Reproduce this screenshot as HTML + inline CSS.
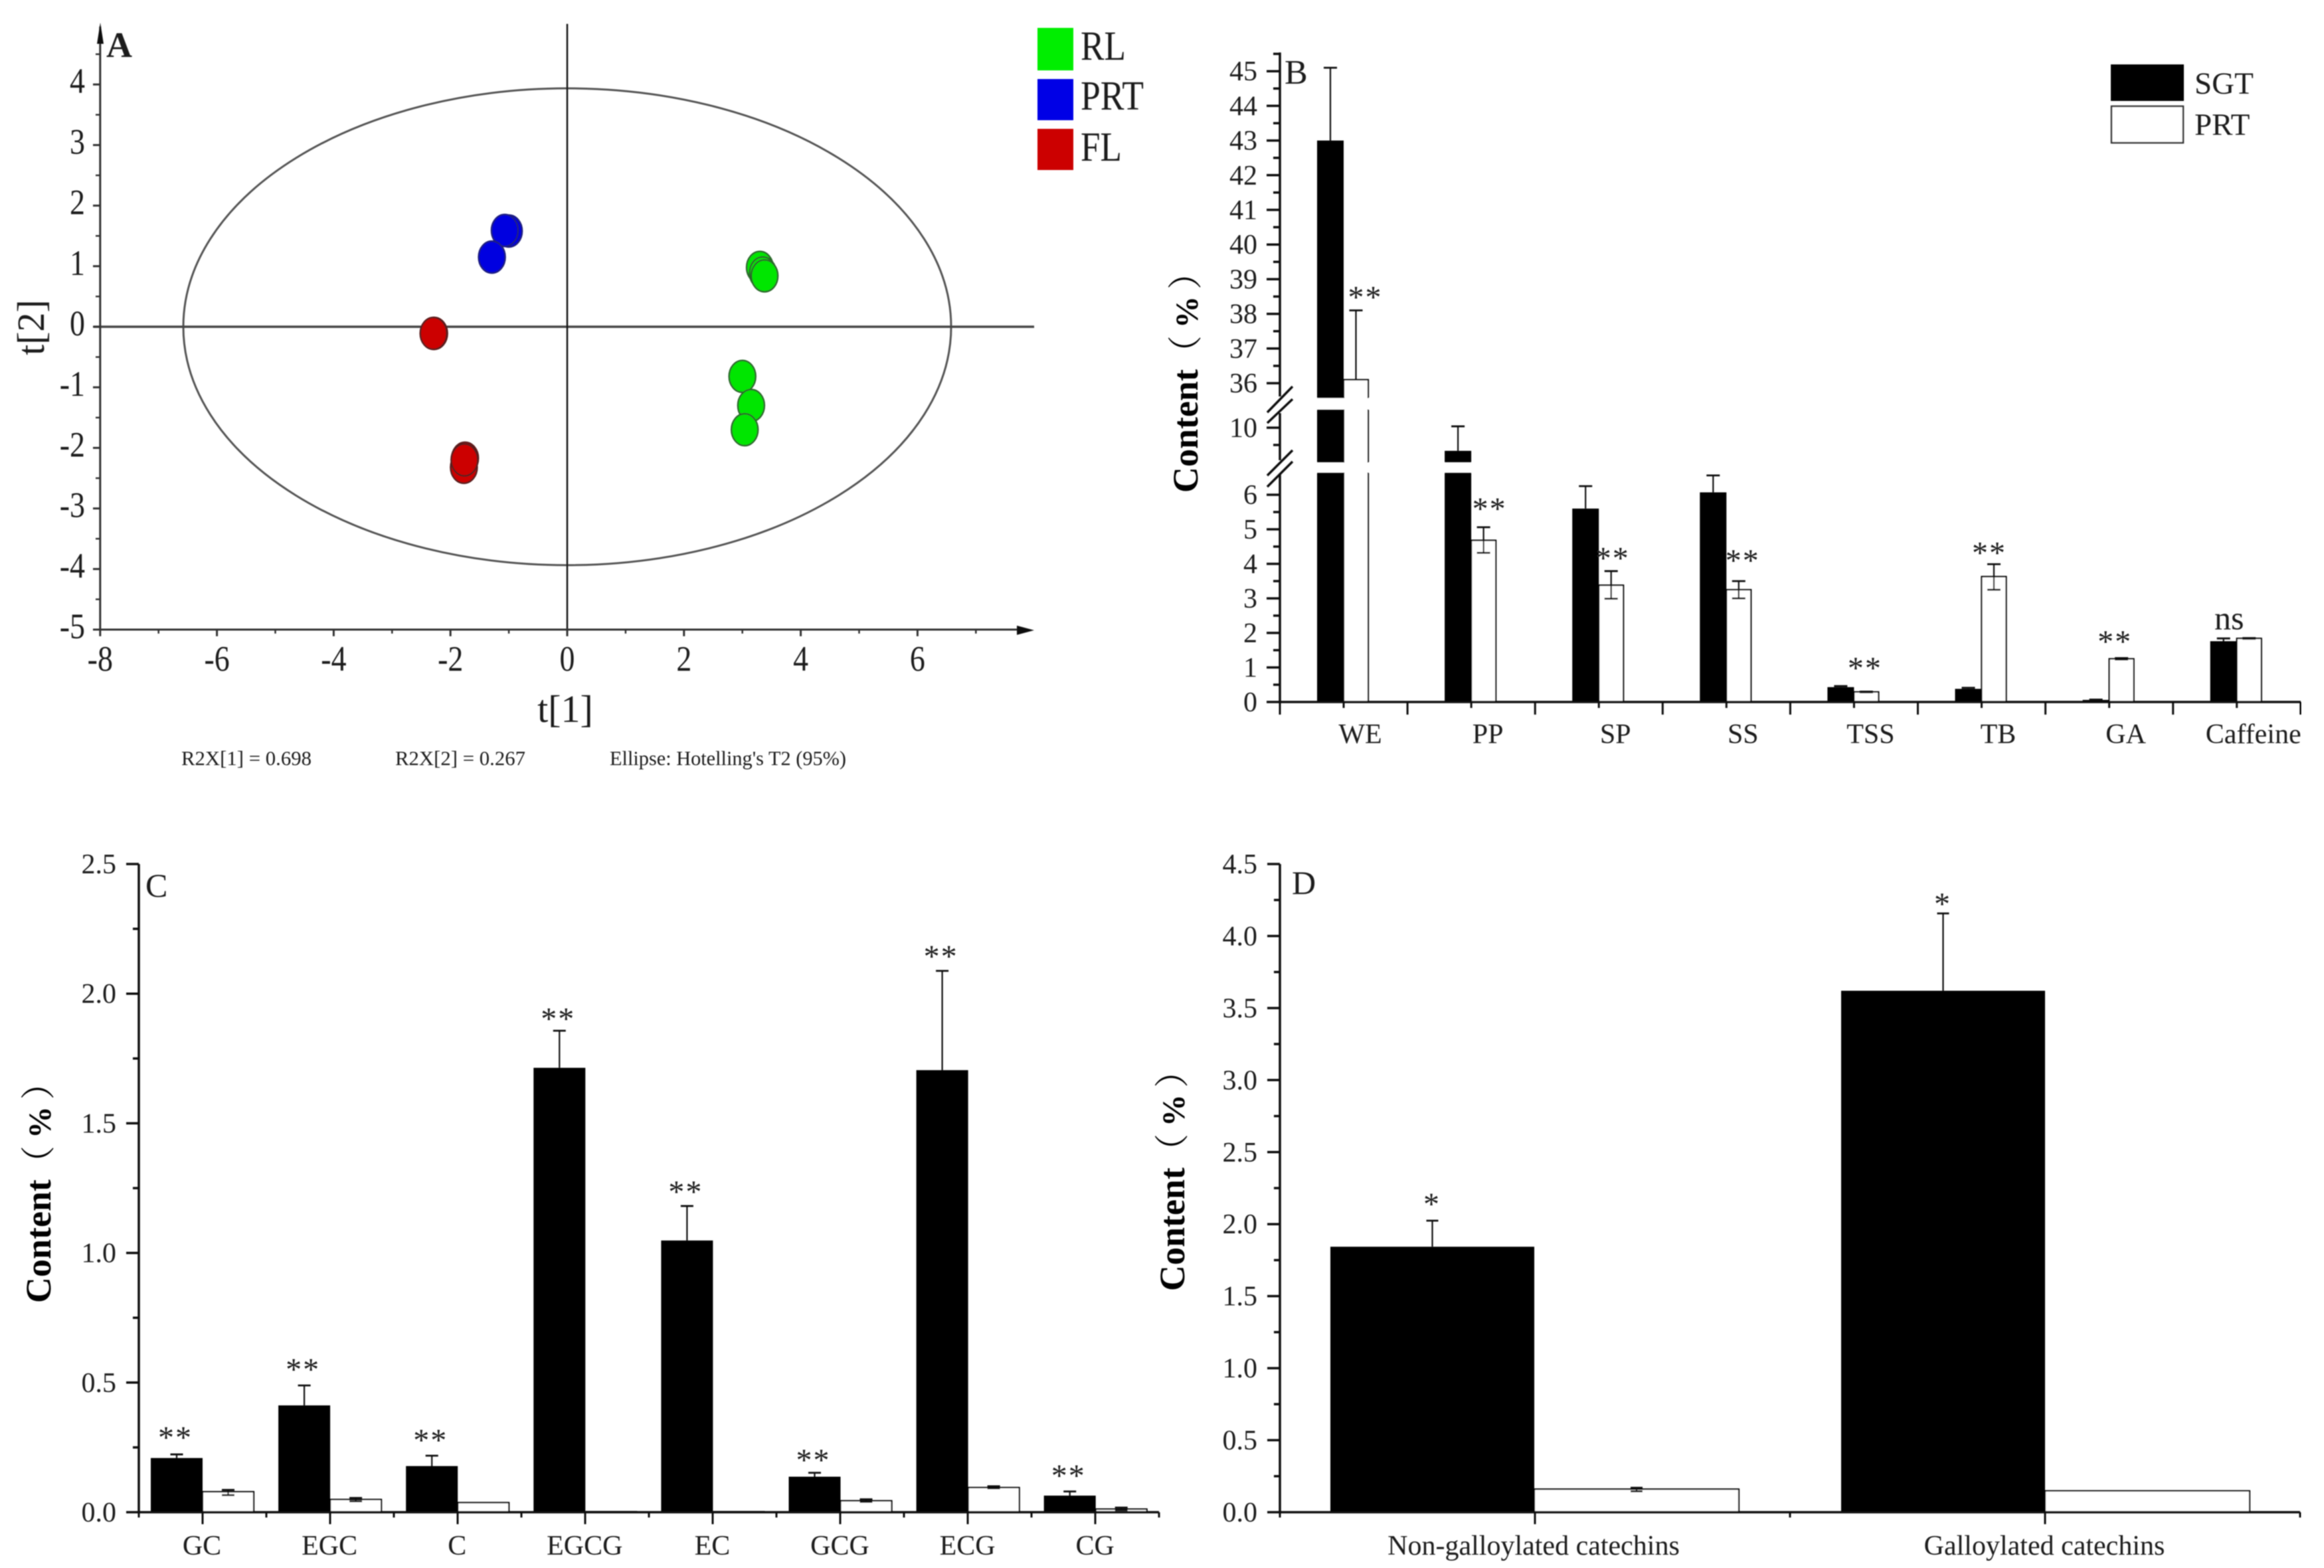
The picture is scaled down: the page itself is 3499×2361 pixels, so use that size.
<!DOCTYPE html>
<html>
<head>
<meta charset="utf-8">
<title>Tea composition panels</title>
<style>
html,body{margin:0;padding:0;background:#fff;}
svg{display:block;}
text{font-family:"Liberation Serif","Noto Serif CJK SC",serif;fill:#1a1a1a;}
.yt{font-weight:bold;font-size:54px;fill:#000;}
.yt .paren{font-weight:normal;font-size:52px;}
.yt .pct{font-size:48px;}
</style>
</head>
<body>
<svg id="figure" xmlns="http://www.w3.org/2000/svg" width="3499" height="2361" viewBox="0 0 3499 2361">
<defs><filter id="soft" x="0" y="0" width="100%" height="100%"><feGaussianBlur stdDeviation="0.9"/></filter></defs>
<rect width="3499" height="2361" fill="#fff"/>
<g id="root" filter="url(#soft)">
  <g id="panelA">
    <text x="160" y="86" font-size="54" font-weight="bold">A</text>
    <ellipse cx="854" cy="492" rx="578" ry="359" fill="none" stroke="#555" stroke-width="3"/>
    <text transform="translate(66,493) rotate(-90)" text-anchor="middle" font-size="58" fill="#333">t[2]</text>
    <text x="851" y="1087" text-anchor="middle" font-size="58" fill="#333">t[1]</text>
    <text x="273" y="1152" font-size="31" textLength="196" lengthAdjust="spacingAndGlyphs">R2X[1] = 0.698</text>
    <text x="595" y="1152" font-size="31" textLength="196" lengthAdjust="spacingAndGlyphs">R2X[2] = 0.267</text>
    <text x="918" y="1152" font-size="31" textLength="356" lengthAdjust="spacingAndGlyphs">Ellipse: Hotelling's T2 (95%)</text>
    <rect x="1562" y="42" width="54" height="64" fill="#00ee00"/>
    <rect x="1562" y="119" width="54" height="62" fill="#0000e6"/>
    <rect x="1562" y="194" width="54" height="62" fill="#cc0000"/>
    <text x="1627" y="90" font-size="62" textLength="68" lengthAdjust="spacingAndGlyphs">RL</text>
    <text x="1627" y="165" font-size="62" textLength="95" lengthAdjust="spacingAndGlyphs">PRT</text>
    <text x="1627" y="242" font-size="62" textLength="62" lengthAdjust="spacingAndGlyphs">FL</text>
  </g>
  <g id="panelB">
    <text x="1934" y="126" font-size="52">B</text>
    <text class="yt" transform="translate(1803,742) rotate(-90)"><tspan x="0">Content</tspan><tspan class="paren" x="185">（</tspan><tspan class="pct" x="248">%</tspan><tspan class="paren" x="306">）</tspan></text>
    <rect x="3178" y="97" width="110" height="55" fill="#000"/>
    <rect x="3179" y="160" width="108" height="55" fill="#fff" stroke="#333" stroke-width="2.5"/>
    <text x="3304" y="141" font-size="47">SGT</text>
    <text x="3304" y="203" font-size="47">PRT</text>
  </g>
  <g id="panelC">
    <text x="219" y="1350" font-size="50">C</text>
    <text class="yt" transform="translate(76,1962) rotate(-90)"><tspan x="0">Content</tspan><tspan class="paren" x="185">（</tspan><tspan class="pct" x="248">%</tspan><tspan class="paren" x="306">）</tspan></text>
  </g>
  <g id="panelD">
    <text x="1945" y="1346" font-size="50">D</text>
    <text class="yt" transform="translate(1783,1944) rotate(-90)"><tspan x="0">Content</tspan><tspan class="paren" x="185">（</tspan><tspan class="pct" x="248">%</tspan><tspan class="paren" x="306">）</tspan></text>
  </g>
</g>
</svg>
<script>
// ---------- Panel A data ----------
const rlT1 = [3.30, 3.35, 3.38, 3.00, 3.15, 3.04];
const rlT2 = [0.98, 0.89, 0.84, -0.82, -1.30, -1.70];
const prtT1 = [-1.00, -1.07, -1.29];
const prtT2 = [1.58, 1.59, 1.15];
const flT1 = [-2.28, -2.29, -1.77, -1.75, -1.76];
const flT2 = [-0.11, -0.11, -2.32, -2.17, -2.20];
const aXTicks = [-8, -6, -4, -2, 0, 2, 4, 6];
const aYTicks = [4, 3, 2, 1, 0, -1, -2, -3, -4, -5];

// ---------- Panel B data ----------
const bCategories = ['WE', 'PP', 'SP', 'SS', 'TSS', 'TB', 'GA', 'Caffeine'];
const bSgt = [43.0, 9.33, 5.6, 6.07, 0.43, 0.38, 0.06, 1.76];
const bSgtErrTop = [45.1, 10.04, 6.25, 6.56, 0.46, 0.41, 0.07, 1.84];
const bPrt = [36.1, 4.68, 3.38, 3.25, 0.29, 3.63, 1.25, 1.84];
const bPrtErrTop = [38.1, 5.06, 3.79, 3.5, 0.30, 3.99, 1.27, 1.85];
const bPrtErrBottom = [36.1, 4.32, 2.99, 3.0, 0.28, 3.25, 1.23, 1.83];
const bSignif = ['**', '**', '**', '**', '**', '**', '**', 'ns'];
const bSignifLevel = [38.6, 5.71, 4.28, 4.21, 1.1, 4.43, 1.87, 2.34];
const bLowTicks = [0, 1, 2, 3, 4, 5, 6];
const bMidTicks = [10];
const bHighTicks = [36, 37, 38, 39, 40, 41, 42, 43, 44, 45];

// ---------- Panel C data ----------
const cCategories = ['GC', 'EGC', 'C', 'EGCG', 'EC', 'GCG', 'ECG', 'CG'];
const cSgt = [0.209, 0.412, 0.178, 1.714, 1.048, 0.137, 1.705, 0.064];
const cSgtErrTop = [0.223, 0.489, 0.218, 1.857, 1.181, 0.152, 2.088, 0.080];
const cPrt = [0.079, 0.049, 0.037, 0.002, 0.002, 0.044, 0.095, 0.012];
const cPrtErrTop = [0.086, 0.055, 0.037, 0.002, 0.002, 0.050, 0.100, 0.018];
const cPrtErrBottom = [0.066, 0.042, 0.037, 0.002, 0.002, 0.040, 0.092, 0.008];
const cSignif = ['**', '**', '**', '**', '**', '**', '**', '**'];
const cSignifLevel = [0.304, 0.566, 0.293, 1.918, 1.251, 0.216, 2.159, 0.156];
const cTicks = ['0.0', '0.5', '1.0', '1.5', '2.0', '2.5'];

// ---------- Panel D data ----------
const dCategories = ['Non-galloylated catechins', 'Galloylated catechins'];
const dSgt = [1.843, 3.62];
const dSgtErrTop = [2.024, 4.157];
const dPrt = [0.16, 0.148];
const dPrtErrTop = [0.17, 0.148];
const dPrtErrBottom = [0.145, 0.148];
const dSignif = ['*', '*'];
const dSignifLevel = [2.166, 4.25];
const dTicks = ['0.0', '0.5', '1.0', '1.5', '2.0', '2.5', '3.0', '3.5', '4.0', '4.5'];

const NS = 'http://www.w3.org/2000/svg';
function drawLine(parent, x1, y1, x2, y2, w, color, name) {
  const el = document.createElementNS(NS, 'line');
  el.setAttribute('x1', x1); el.setAttribute('y1', y1);
  el.setAttribute('x2', x2); el.setAttribute('y2', y2);
  el.setAttribute('stroke', color); el.setAttribute('stroke-width', w);
  
  
  parent.appendChild(el);
  return el;
}
function drawRect(parent, x, y, w, h, fill, stroke, sw, name) {
  const el = document.createElementNS(NS, 'rect');
  el.setAttribute('x', x); el.setAttribute('y', y);
  el.setAttribute('width', w); el.setAttribute('height', Math.max(0, h));
  el.setAttribute('fill', fill);
  if (stroke) { el.setAttribute('stroke', stroke); el.setAttribute('stroke-width', sw); }
  
  
  parent.appendChild(el);
  return el;
}
function drawText(parent, x, y, str, size, anchor, name) {
  const el = document.createElementNS(NS, 'text');
  el.setAttribute('x', x); el.setAttribute('y', y);
  el.setAttribute('font-size', size);
  el.setAttribute('text-anchor', anchor);
  el.textContent = str;
  
  
  parent.appendChild(el);
  return el;
}
function drawCondensed(parent, x, y, str, size, anchor, squeeze, name) {
  const el = drawText(parent, 0, 0, str, size, anchor, name);
  el.setAttribute('transform', 'translate(' + x + ',' + y + ') scale(' + squeeze + ',1)');
  return el;
}
function drawArrow(parent, pts, name) {
  const el = document.createElementNS(NS, 'polygon');
  el.setAttribute('points', pts);
  el.setAttribute('fill', '#111');
  
  
  parent.appendChild(el);
}

// ---------- Panel A ----------
(function () {
  const g = document.getElementById('panelA');
  const xA = v => 854 + v * 87.9;
  const yA = v => 492 - v * 91.2;
  drawLine(g, 141, yA(0), 1557, yA(0), 3.5, '#444', 'zero-line-horizontal');
  drawLine(g, xA(0), 36, xA(0), yA(-5), 2.5, '#111', 'zero-line-vertical');
  drawLine(g, xA(-8), 40, xA(-8), yA(-5), 3, '#333', 'y-axis-line');
  drawLine(g, xA(-8), yA(-5), 1540, yA(-5), 3, '#333', 'x-axis-line');
  drawArrow(g, '151,34 146,66 156,66', 'y-axis-arrow');
  drawArrow(g, '1557,949 1531,942 1531,956', 'x-axis-arrow');
  aYTicks.forEach(t => {
    drawLine(g, 140, yA(t), 151, yA(t), 3, '#333', 'y-tick');
    drawCondensed(g, 128, yA(t) + 13, String(t), 54, 'end', 0.85, 'y-tick-label');
    if (t > -5) drawLine(g, 144, yA(t - 0.5), 151, yA(t - 0.5), 2.5, '#333', 'y-minor-tick');
  });
  drawLine(g, 144, yA(4.5), 151, yA(4.5), 2.5, '#333', 'y-minor-tick');
  aXTicks.forEach(t => {
    drawLine(g, xA(t), yA(-5), xA(t), yA(-5) + 10, 3, '#333', 'x-tick');
    drawCondensed(g, xA(t), 1010, String(t), 54, 'middle', 0.85, 'x-tick-label');
    drawLine(g, xA(t + 1), yA(-5), xA(t + 1), yA(-5) + 6, 2.5, '#333', 'x-minor-tick');
  });
  function points(xs, ys, color, edge, name) {
    xs.forEach((v, i) => {
      const el = document.createElementNS(NS, 'ellipse');
      el.setAttribute('cx', xA(v)); el.setAttribute('cy', yA(ys[i]));
      el.setAttribute('rx', 20); el.setAttribute('ry', 24);
      el.setAttribute('fill', color);
      el.setAttribute('stroke', edge); el.setAttribute('stroke-width', 2.5);
      
      
      g.appendChild(el);
    });
  }
  points(rlT1, rlT2, '#00e600', '#2a6a2a', 'point-rl');
  points(prtT1, prtT2, '#0000e0', '#1a1a80', 'point-prt');
  points(flT1, flT2, '#cc0000', '#5a1a1a', 'point-fl');
})();

// ---------- Shared bar drawing ----------
function drawBars(g, cfg) {
  cfg.categories.forEach((cat, i) => {
    const x0 = cfg.barStart + i * cfg.step;
    const key = cat.toLowerCase().replace(/\s+/g, '-');
    drawRect(g, x0 + cfg.barW, cfg.y(cfg.prt[i]), cfg.barW2, cfg.base - cfg.y(cfg.prt[i]), '#fff', '#000', 2.2, 'bar-prt-' + key);
    drawRect(g, x0, cfg.y(cfg.sgt[i]), cfg.barW, cfg.base - cfg.y(cfg.sgt[i]), '#000', null, 0, 'bar-sgt-' + key);
    // error bars
    const cs = x0 + cfg.barW / 2;
    const cp = x0 + cfg.barW + cfg.barW2 / 2;
    const cap = cfg.cap / 2;
    drawLine(g, cs, cfg.y(cfg.sgt[i]), cs, cfg.y(cfg.sgtTop[i]), 2.2, '#111', 'error-bar-sgt-' + key);
    drawLine(g, cs - cap, cfg.y(cfg.sgtTop[i]), cs + cap, cfg.y(cfg.sgtTop[i]), 2.8, '#111', 'error-cap-sgt-' + key);
    if (cfg.prtTop[i] > cfg.prtBottom[i]) {
      drawLine(g, cp, cfg.y(cfg.prtBottom[i]), cp, cfg.y(cfg.prtTop[i]), 2.2, '#111', 'error-bar-prt-' + key);
      drawLine(g, cp - cap, cfg.y(cfg.prtTop[i]), cp + cap, cfg.y(cfg.prtTop[i]), 2.8, '#111', 'error-cap-prt-' + key);
      if (cfg.prtBottom[i] < cfg.prt[i]) {
        drawLine(g, cp - cap, cfg.y(cfg.prtBottom[i]), cp + cap, cfg.y(cfg.prtBottom[i]), 2.8, '#111', 'error-cap-prt-low-' + key);
      }
    }
    // significance
    const sx = cfg.signifX(i, x0);
    const isNs = cfg.signif[i] === 'ns';
    const el = drawText(g, sx, cfg.y(cfg.signifLevel[i]) + (isNs ? 12 : 22), cfg.signif[i], isNs ? 50 : 48, 'middle', 'significance-' + key);
    if (!isNs) el.setAttribute('letter-spacing', '2');
    // category label
    drawText(g, cfg.labelX(i), cfg.labelY, cat, 42, 'middle', 'category-label-' + key);
  });
}

// ---------- Panel B ----------
(function () {
  const g = document.getElementById('panelB');
  const gapLow = [6.63, 9.0];
  const gapHigh = [10.52, 35.58];
  function yB(v) {
    if (v <= gapLow[0]) return 1057 - 52 * v;
    if (v < gapLow[1]) return 712 - (v - gapLow[0]) / (gapLow[1] - gapLow[0]) * 16;
    if (v <= gapHigh[0]) return 644 + (10 - v) * 52;
    if (v < gapHigh[1]) return 617 - (v - gapHigh[0]) / (gapHigh[1] - gapHigh[0]) * 18;
    return 577 - (v - 36) * 52.2;
  }
  // shift of significance labels relative to the PRT bar centre
  const starShift = [14, 9, 2, 6, -2, -7, -10, -30];
  drawBars(g, {
    categories: bCategories, sgt: bSgt, sgtTop: bSgtErrTop, prt: bPrt, prtTop: bPrtErrTop, prtBottom: bPrtErrBottom,
    signif: bSignif, signifLevel: bSignifLevel, y: yB, base: 1057,
    barStart: 1983, step: 192.1, barW: 40, barW2: 37, cap: 20,
    signifX: (i, x0) => x0 + 58.5 + starShift[i],
    labelX: i => 2048 + i * 192.1, labelY: 1119
  });
  // axis-break gaps cut through tall bars
  bCategories.forEach((cat, i) => {
    const x0 = 1983 + i * 192.1;
    if (bSgt[i] > gapLow[0]) {
      const hi = bPrt[i] > gapLow[0] ? 82 : 45;
      drawRect(g, x0 - 3, 696.5, hi, 15, '#fff', null, 0, 'axis-break-gap');
    }
    if (bSgt[i] > gapHigh[0]) {
      const hi = bPrt[i] > gapHigh[0] ? 82 : 45;
      drawRect(g, x0 - 3, 599.5, hi, 17, '#fff', null, 0, 'axis-break-gap');
    }
  });
  // y axis segments
  drawLine(g, 1927, 79, 1927, 597, 3.5, '#111', 'y-axis-upper-segment');
  drawLine(g, 1927, 622, 1927, 693, 3.5, '#111', 'y-axis-middle-segment');
  drawLine(g, 1927, 713, 1927, 1059, 3.5, '#111', 'y-axis-lower-segment');
  [[1908, 621, 1946, 582], [1908, 637, 1946, 601], [1908, 716, 1946, 678], [1908, 733, 1946, 695]].forEach(s => {
    drawLine(g, s[0], s[1], s[2], s[3], 3.5, '#111', 'axis-break-mark');
  });
  function yTicks(list, minorFn) {
    list.forEach(t => {
      drawLine(g, 1907, yB(t), 1927, yB(t), 3.5, '#111', 'y-tick');
      drawText(g, 1893, yB(t) + 14, String(t), 42, 'end', 'y-tick-label');
      const m = minorFn(t);
      if (m !== null) drawLine(g, 1917, yB(m), 1927, yB(m), 3.5, '#111', 'y-minor-tick');
    });
  }
  yTicks(bLowTicks, t => t < 6 ? t + 0.5 : null);
  yTicks(bMidTicks, t => t - 0.5);
  yTicks(bHighTicks, t => t + 0.5);
  // x axis
  drawLine(g, 1927, 1057, 3464, 1057, 3.5, '#111', 'x-axis-line');
  for (let i = 0; i <= bCategories.length; i++) {
    const x = 1927 + i * 192.1;
    drawLine(g, x, 1057, x, 1076, 3, '#111', 'x-tick');
    if (i < bCategories.length) drawLine(g, x + 96, 1057, x + 96, 1066, 3, '#111', 'x-minor-tick');
  }
})();

// ---------- Panel C ----------
(function () {
  const g = document.getElementById('panelC');
  const yC = v => 2277 - v * 390.4;
  drawBars(g, {
    categories: cCategories, sgt: cSgt, sgtTop: cSgtErrTop, prt: cPrt, prtTop: cPrtErrTop, prtBottom: cPrtErrBottom,
    signif: cSignif, signifLevel: cSignifLevel, y: yC, base: 2277,
    barStart: 227, step: 192.1, barW: 78, barW2: 77, cap: 19,
    signifX: (i, x0) => x0 + 37,
    labelX: i => 304 + i * 192.1, labelY: 2341
  });
  drawLine(g, 209, 1301, 209, 2279, 3.5, '#111', 'y-axis-line');
  drawLine(g, 209, 2277, 1745, 2277, 3.5, '#111', 'x-axis-line');
  cTicks.forEach(t => {
    const v = parseFloat(t);
    drawLine(g, 190, yC(v), 209, yC(v), 3.5, '#111', 'y-tick');
    drawText(g, 175, yC(v) + 14, t, 42, 'end', 'y-tick-label');
    if (v < 2.5) drawLine(g, 200, yC(v + 0.25), 209, yC(v + 0.25), 3.5, '#111', 'y-minor-tick');
  });
  for (let i = 0; i <= cCategories.length; i++) {
    const x = 209 + i * 192;
    drawLine(g, x, 2277, x, 2285, 3, '#111', 'x-minor-tick');
    if (i < cCategories.length) drawLine(g, x + 96, 2277, x + 96, 2295, 3, '#111', 'x-tick');
  }
})();

// ---------- Panel D ----------
(function () {
  const g = document.getElementById('panelD');
  const yD = v => 2277 - v * 216.9;
  drawBars(g, {
    categories: dCategories, sgt: dSgt, sgtTop: dSgtErrTop, prt: dPrt, prtTop: dPrtErrTop, prtBottom: dPrtErrBottom,
    signif: dSignif, signifLevel: dSignifLevel, y: yD, base: 2277,
    barStart: 2003, step: 769, barW: 307, barW2: 308, cap: 18,
    signifX: (i, x0) => x0 + 153,
    labelX: i => 2309 + i * 769, labelY: 2341
  });
  drawLine(g, 1927, 1301, 1927, 2279, 3.5, '#111', 'y-axis-line');
  drawLine(g, 1927, 2277, 3463, 2277, 3.5, '#111', 'x-axis-line');
  dTicks.forEach(t => {
    const v = parseFloat(t);
    drawLine(g, 1908, yD(v), 1927, yD(v), 3.5, '#111', 'y-tick');
    drawText(g, 1893, yD(v) + 14, t, 42, 'end', 'y-tick-label');
    if (v < 4.5) drawLine(g, 1918, yD(v + 0.25), 1927, yD(v + 0.25), 3.5, '#111', 'y-minor-tick');
  });
  for (let i = 0; i <= dCategories.length; i++) {
    const x = 1927 + i * 768;
    drawLine(g, x, 2277, x, 2285, 3, '#111', 'x-minor-tick');
    if (i < dCategories.length) drawLine(g, x + 384, 2277, x + 384, 2295, 3, '#111', 'x-tick');
  }
})();
</script>
</body>
</html>
